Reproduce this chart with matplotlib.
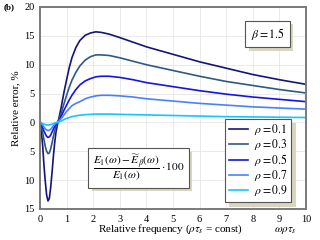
import matplotlib
matplotlib.use('Agg')
import matplotlib.pyplot as plt
import matplotlib.patheffects as pe

plt.rcParams['font.family'] = 'Liberation Serif'
plt.rcParams['mathtext.fontset'] = 'stix'
plt.rcParams['font.size'] = 7.5

# Dados
x = [0, 0.05, 0.1, 0.15, 0.2, 0.25, 0.3, 0.35, 0.4, 0.45, 0.5, 0.55, 0.6,
     0.65, 0.7, 0.8, 0.9, 1.0, 1.1, 1.2, 1.35, 1.5, 1.7, 1.9, 2.1, 2.3, 2.6,
     3.0, 3.5, 4.0, 5.0, 6.0, 7.0, 8.0, 9.0, 10.0]
err_01 = [0, -1.5, -4.0, -7.5, -10.3, -12.6, -13.6, -13.2, -11.3, -8.8, -6.0,
          -3.6, -1.7, -0.5, 0.5, 2.7, 5.2, 7.4, 9.5, 11.2, 13.0, 14.2, 15.1,
          15.5, 15.7, 15.6, 15.3, 14.7, 13.9, 13.1, 11.8, 10.5, 9.4, 8.3, 7.4,
          6.6]
err_03 = [0, -0.7, -1.8, -3.0, -4.2, -5.0, -5.4, -5.3, -4.6, -3.6, -2.5,
          -1.5, -0.7, -0.1, 0.4, 1.7, 3.2, 4.7, 6.1, 7.3, 8.7, 9.8, 10.8,
          11.4, 11.7, 11.7, 11.6, 11.2, 10.6, 10.0, 9.0, 8.0, 7.1, 6.4, 5.7,
          5.1]
err_05 = [0, -0.35, -0.9, -1.5, -2.0, -2.4, -2.6, -2.5, -2.2, -1.7, -1.2,
          -0.7, -0.3, 0.0, 0.3, 1.1, 2.1, 3.0, 3.9, 4.7, 5.7, 6.5, 7.2, 7.6,
          7.9, 8.0, 8.0, 7.8, 7.4, 6.9, 6.2, 5.5, 4.9, 4.4, 4.0, 3.6]
err_07 = [0, -0.2, -0.5, -0.8, -1.1, -1.3, -1.4, -1.35, -1.2, -0.9, -0.6,
          -0.35, -0.15, 0.0, 0.2, 0.7, 1.3, 1.9, 2.4, 2.9, 3.3, 3.6, 4.1, 4.4,
          4.6, 4.7, 4.7, 4.6, 4.4, 4.1, 3.7, 3.3, 3.0, 2.7, 2.5, 2.3]
err_09 = [0, -0.1, -0.2, -0.3, -0.38, -0.43, -0.45, -0.43, -0.38, -0.3, -0.2,
          -0.12, -0.05, 0.0, 0.07, 0.25, 0.5, 0.7, 0.85, 1.0, 1.15, 1.25,
          1.35, 1.4, 1.45, 1.45, 1.45, 1.4, 1.35, 1.3, 1.2, 1.1, 1.0, 0.95,
          0.9, 0.85]

series = [err_01, err_03, err_05, err_07, err_09]
labels = [r'$\rho = 0.1$', r'$\rho = 0.3$', r'$\rho = 0.5$',
          r'$\rho = 0.7$', r'$\rho = 0.9$']
colors = ['#14147a', '#2d5a84', '#1414e6', '#4a80ff', '#10c8ff']

yticks = [-15, -10, -5, 0, 5, 10, 15, 20]
ytick_labels = ['15', '10', '5', '0', '5', '10', '15', '20']
xticks = list(range(0, 11))

fig = plt.figure(figsize=(3.2, 2.4), dpi=100)
ax = fig.add_axes([40 / 320, 1 - 209 / 240, 266 / 320, 202 / 240])

for yv, lab, c in zip(series, labels, colors):
    ax.plot(x, yv, color=c, lw=1.2, label=lab)

ax.set_xlim(0, 10)
ax.set_ylim(-15, 20)
ax.set_xticks(xticks)
ax.set_yticks(yticks)
ax.set_yticklabels(ytick_labels)
ax.tick_params(length=0, pad=4, labelsize=7.5)
ax.grid(True, color='#e6e6e6', lw=0.6)
ax.set_axisbelow(True)
for s in ax.spines.values():
    s.set_color('#7a7a7a')
    s.set_linewidth(1.4)

ax.set_ylabel('Relative error, %', fontsize=8, labelpad=3)
fig.text(170 / 320, 1 - 229 / 240, r'Relative frequency ($\rho\tau_s$ = const)',
         ha='center', va='center', fontsize=8)
fig.text(285 / 320, 1 - 231 / 240, r'$\omega\rho\tau_s$',
         ha='center', va='center', fontsize=8)
fig.text(4 / 320, 1 - 7 / 240, '(b)', fontweight='bold', fontsize=6.5,
         ha='left', va='center')

shadow = [pe.SimplePatchShadow(offset=(2.5, -2.5), shadow_rgbFace='#d8d5c0',
                               alpha=1), pe.Normal()]

t1 = ax.text(0.855, 0.866, r'$\beta = 1.5$', transform=ax.transAxes,
             ha='center', va='center', fontsize=8.5,
             bbox=dict(boxstyle='square,pad=0.45', fc='white', ec='#555555',
                       lw=0.8))
t1.get_bbox_patch().set_path_effects(shadow)

t2 = ax.text(0.37, 0.203,
             r'$\dfrac{E_1(\omega)-\widetilde{E}_\beta(\omega)}{E_1(\omega)}\cdot 100$',
             transform=ax.transAxes, ha='center', va='center', fontsize=8.2,
             bbox=dict(boxstyle='square,pad=0.4', fc='white', ec='#555555',
                       lw=0.8))
t2.get_bbox_patch().set_path_effects(shadow)

leg = ax.legend(loc='lower right', bbox_to_anchor=(0.944, 0.035), fontsize=8.5,
                handlelength=1.6, handletextpad=0.5, labelspacing=0.0,
                borderpad=0.3, borderaxespad=0, fancybox=False, framealpha=1,
                edgecolor='#555555',
                shadow={'color': '#d8d5c0', 'alpha': 1, 'ox': 3, 'oy': -3})
leg.get_frame().set_linewidth(0.8)

fig.savefig('out.png', dpi=100)
